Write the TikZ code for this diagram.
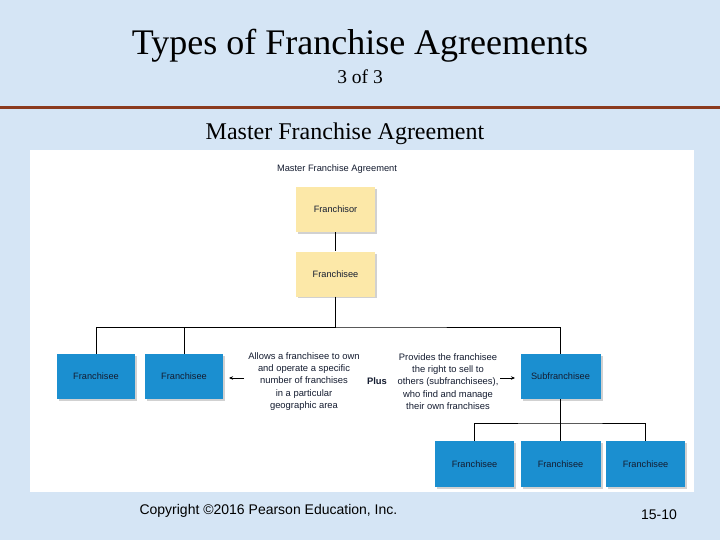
\documentclass[tikz,border=0pt]{standalone}
\usepackage{fontspec}
\setmainfont{Liberation Serif}
\setsansfont{Liberation Sans}
\usetikzlibrary{arrows.meta}
\definecolor{bgblue}{HTML}{D5E5F5}
\definecolor{rulebrown}{HTML}{8B3A1E}
\definecolor{boxyellow}{HTML}{FCE8A8}
\definecolor{boxblue}{HTML}{1B8FD0}
\definecolor{txtdark}{HTML}{141C30}
\tikzset{
  ybox/.style={draw=none, fill=boxyellow, minimum width=79pt, minimum height=45pt, inner sep=0pt,
    font=\sffamily\fontsize{9.2}{10}\selectfont, text=txtdark},
  bbox/.style={draw=none, fill=boxblue, minimum width=78pt, minimum height=45pt, inner sep=0pt,
    font=\sffamily\fontsize{9.2}{10}\selectfont, text=txtdark},
  desc/.style={align=center, font=\sffamily\fontsize{9.4}{12.2}\selectfont, text=txtdark, inner sep=0pt},
  conn/.style={draw=black, line width=0.9pt},
  arr/.style={draw=black, line width=0.7pt, -{Stealth[length=4pt,width=3.5pt]}},
  shad/.style={fill=black!18}
}
\begin{document}
\begin{tikzpicture}[x=1pt,y=-1pt]
\useasboundingbox (0,0) rectangle (720,540);
\fill[bgblue] (0,0) rectangle (720,540);
% titles
\node[font=\fontsize{36}{38}\selectfont] (title) at (360,46) {Types of Franchise Agreements};
\node[font=\fontsize{19.5}{21}\selectfont] (sub) at (360,77) {3 of 3};
\fill[rulebrown] (0,106.5) rectangle (720,109.5);
\node[font=\fontsize{24}{26}\selectfont] (mfa) at (345,134) {Master Franchise Agreement};
% white panel
\fill[white] (30,150) rectangle (694,492);
\node[font=\sffamily\fontsize{9.3}{10}\selectfont, text=txtdark] (lbl) at (337,169) {Master Franchise Agreement};
% shadows
\foreach \a/\b/\c/\d in {296/187/375/232, 296/252/375/296}
  \fill[shad] (\a+2,\b+2) rectangle (\c+2,\d+2);
\foreach \a/\b/\c/\d in {57/354/135/399, 145/354/223/399, 520.5/354/600.5/399, 435/441/514/487, 520.5/441/600.5/487, 606/441/685/487}
  \fill[shad] (\a+2,\b+2) rectangle (\c+2,\d+2);
% nodes
\node[ybox] (fr) at (335.5,209.5) {Franchisor};
\node[ybox] (fe) at (335.5,274) {Franchisee};
\node[bbox] (f1) at (96,376.5) {Franchisee};
\node[bbox] (f2) at (184,376.5) {Franchisee};
\node[bbox, minimum width=80pt] (sf) at (560.5,376.5) {Subfranchisee};
\node[bbox, minimum width=79pt, minimum height=46pt] (s1) at (474.5,464) {Franchisee};
\node[bbox, minimum width=80pt, minimum height=46pt] (s2) at (560.5,464) {Franchisee};
\node[bbox, minimum width=79pt, minimum height=46pt] (s3) at (645.5,464) {Franchisee};
\node[desc] (dl) at (304,381.5) {Allows a franchisee to own\\and operate a specific\\number of franchises\\in a particular\\geographic area};
\node[desc, font=\sffamily\bfseries\fontsize{9.4}{10}\selectfont] (plus) at (377,381) {Plus};
\node[desc] (dr) at (448,381.5) {Provides the franchisee\\the right to sell to\\others (subfranchisees),\\who find and manage\\their own franchises};
% connectors
\coordinate (j1) at (335.5,327);
\coordinate (j2) at (560.5,423);
\draw[conn] (fr) -- (fe);
\draw[conn] (fe) -- (j1);
\draw[conn] (f1.north) |- (j1) -| (sf.north);
\draw[conn] (f2.north) |- (j1);
\draw[conn] (sf.south) -- (j2);
\draw[conn] (s1.north) |- (j2) -| (s3.north);
\draw[conn] (s2.north) -- (j2);
\coordinate (als) at (244,378);
\coordinate (ale) at (229,378);
\coordinate (ars) at (500,378);
\coordinate (are) at (515,378);
\draw[arr] (als) -- (ale);
\draw[arr] (ars) -- (are);
% footer
\node[font=\sffamily\fontsize{14}{16}\selectfont, anchor=west] (copy) at (136,511) {Copyright \textcopyright2016 Pearson Education, Inc.};
\node[font=\sffamily\fontsize{14}{16}\selectfont] (page) at (659,515) {15-10};
\end{tikzpicture}
\end{document}
